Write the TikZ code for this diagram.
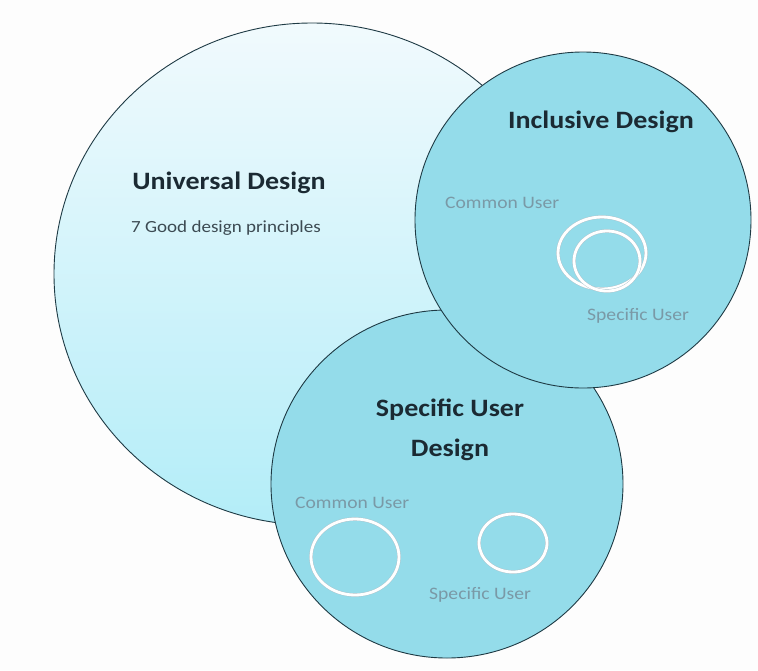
\documentclass[tikz,border=0pt]{standalone}
\usepackage{fontspec}
\setmainfont{Carlito}[FakeStretch=1.12]
\usetikzlibrary{shapes.geometric}
\definecolor{bgc}{HTML}{FDFDFD}
\definecolor{edgec}{HTML}{1E3A44}
\definecolor{tealc}{HTML}{94DCEA}
\definecolor{ugtop}{HTML}{F1FAFD}
\definecolor{ugbot}{HTML}{B3EDF8}
\definecolor{titlec}{HTML}{1B2A33}
\definecolor{subc}{HTML}{3C4A52}
\definecolor{lblc}{HTML}{7A99A6}
\begin{document}
\begin{tikzpicture}[x=1pt,y=-1pt,
  bigc/.style={ellipse, draw=edgec, line width=0.9pt, inner sep=0pt},
  ring/.style={ellipse, draw=lblc!60, double=white, double distance=2.8pt, line width=0.4pt, inner sep=0pt},
  ttl/.style={font=\fontsize{25}{40}\selectfont\bfseries, text=titlec, inner sep=0pt, align=center},
  lab/.style={font=\fontsize{17.5}{20}\selectfont, text=lblc, inner sep=0pt, anchor=west},
  subt/.style={font=\fontsize{17}{20}\selectfont, text=subc, inner sep=0pt, anchor=west}]
\useasboundingbox (0,0) rectangle (758,670);
\fill[bgc] (0,0) rectangle (758,670);
% circles
\node[bigc, top color=ugtop, bottom color=ugbot, minimum width=516pt, minimum height=502pt] (uni) at (312,274) {};
\node[bigc, fill=tealc, minimum width=352pt, minimum height=348pt] (spec) at (447,484) {};
\node[bigc, fill=tealc, minimum width=336pt, minimum height=336pt] (incl) at (583,220) {};
% rings
\node[ring, minimum width=88pt, minimum height=72pt] (io) at (602,253) {};
\node[ring, minimum width=66pt, minimum height=60pt] (ii) at (607,261) {};
\node[ring, minimum width=88pt, minimum height=76pt] (sl) at (355,557) {};
\node[ring, minimum width=68pt, minimum height=58pt] (sr) at (513,543) {};
% texts
\node[ttl] (tuni) at (229,183) {Universal Design};
\node[subt] (tsub) at (131,228) {7 Good design principles};
\node[ttl] (tincl) at (601,122) {Inclusive Design};
\node[lab] (ic) at (445,203) {Common User};
\node[lab] (is) at (587,316) {Specific User};
\node[ttl] (tspec) at (450,430) {Specific User\\Design};
\node[lab] (sc) at (295,503) {Common User};
\node[lab] (ss) at (429,595) {Specific User};
\end{tikzpicture}
\end{document}
